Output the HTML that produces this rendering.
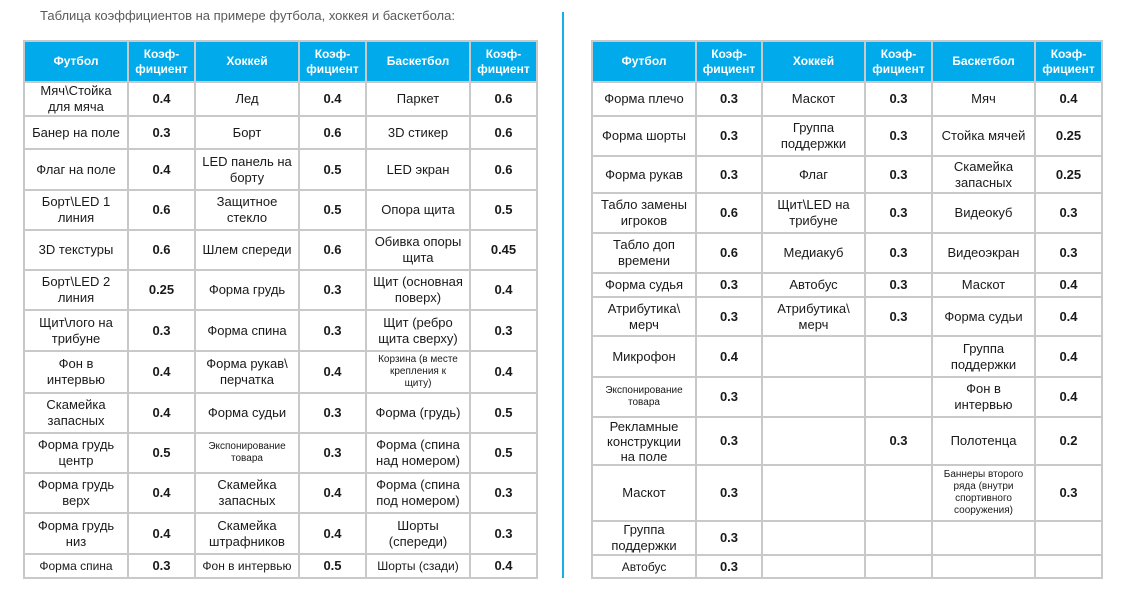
<!DOCTYPE html>
<html><head><meta charset="utf-8">
<style>
html,body{margin:0;padding:0;background:#fff;width:1123px;height:597px;overflow:hidden;position:relative;font-family:"Liberation Sans","DejaVu Sans",sans-serif;}
.title{position:absolute;left:40px;top:8px;font-size:13px;color:#5a5a5a;white-space:nowrap;}
.vline{position:absolute;left:562px;top:12px;width:2px;height:566px;background:#1aaee8;}
table{position:absolute;border-collapse:collapse;table-layout:fixed;top:40px;}
td,th{border:2px solid #c9c9c9;text-align:center;vertical-align:middle;padding:0;font-size:13px;line-height:16px;color:#1a1a1a;overflow:hidden;white-space:nowrap;}
th{background:#00aaeb;color:#fff;font-weight:bold;font-size:12px;line-height:15px;}
td.v{font-weight:bold;font-size:13px;}
td.s{font-size:10px;line-height:12px;}
td.t{line-height:15px;}
#t1{left:23px;width:513px;}
#t2{left:591px;width:510px;}
</style></head><body>
<div class="title">Таблица коэффициентов на примере футбола, хоккея и баскетбола:</div>
<div class="vline"></div>

<table id="t1">
<colgroup><col style="width:104px"><col style="width:67px"><col style="width:104px"><col style="width:67px"><col style="width:104px"><col style="width:67px"></colgroup>
<tr style="height:41px"><th>Футбол</th><th>Коэф-<br>фициент</th><th>Хоккей</th><th>Коэф-<br>фициент</th><th>Баскетбол</th><th>Коэф-<br>фициент</th></tr>
<tr style="height:34px"><td>Мяч\Стойка<br>для мяча</td><td class="v">0.4</td><td>Лед</td><td class="v">0.4</td><td>Паркет</td><td class="v">0.6</td></tr>
<tr style="height:33px"><td>Банер на поле</td><td class="v">0.3</td><td>Борт</td><td class="v">0.6</td><td>3D стикер</td><td class="v">0.6</td></tr>
<tr style="height:41px"><td>Флаг на поле</td><td class="v">0.4</td><td>LED панель на<br>борту</td><td class="v">0.5</td><td>LED экран</td><td class="v">0.6</td></tr>
<tr style="height:40px"><td>Борт\LED 1<br>линия</td><td class="v">0.6</td><td>Защитное<br>стекло</td><td class="v">0.5</td><td>Опора щита</td><td class="v">0.5</td></tr>
<tr style="height:40px"><td>3D текстуры</td><td class="v">0.6</td><td>Шлем спереди</td><td class="v">0.6</td><td>Обивка опоры<br>щита</td><td class="v">0.45</td></tr>
<tr style="height:40px"><td>Борт\LED 2<br>линия</td><td class="v">0.25</td><td>Форма грудь</td><td class="v">0.3</td><td>Щит (основная<br>поверх)</td><td class="v">0.4</td></tr>
<tr style="height:41px"><td>Щит\лого на<br>трибуне</td><td class="v">0.3</td><td>Форма спина</td><td class="v">0.3</td><td>Щит (ребро<br>щита сверху)</td><td class="v">0.3</td></tr>
<tr style="height:42px"><td>Фон в<br>интервью</td><td class="v">0.4</td><td>Форма рукав\<br>перчатка</td><td class="v">0.4</td><td class="s">Корзина (в месте<br>крепления к<br>щиту)</td><td class="v">0.4</td></tr>
<tr style="height:40px"><td>Скамейка<br>запасных</td><td class="v">0.4</td><td>Форма судьи</td><td class="v">0.3</td><td>Форма (грудь)</td><td class="v">0.5</td></tr>
<tr style="height:40px"><td>Форма грудь<br>центр</td><td class="v">0.5</td><td class="s">Экспонирование<br>товара</td><td class="v">0.3</td><td>Форма (спина<br>над номером)</td><td class="v">0.5</td></tr>
<tr style="height:40px"><td>Форма грудь<br>верх</td><td class="v">0.4</td><td>Скамейка<br>запасных</td><td class="v">0.4</td><td>Форма (спина<br>под номером)</td><td class="v">0.3</td></tr>
<tr style="height:41px"><td>Форма грудь<br>низ</td><td class="v">0.4</td><td>Скамейка<br>штрафников</td><td class="v">0.4</td><td>Шорты<br>(спереди)</td><td class="v">0.3</td></tr>
<tr style="height:24px"><td style="font-size:12px">Форма спина</td><td class="v">0.3</td><td style="font-size:12px">Фон в интервью</td><td class="v">0.5</td><td style="font-size:12px">Шорты (сзади)</td><td class="v">0.4</td></tr>
</table>

<table id="t2">
<colgroup><col style="width:104px"><col style="width:66px"><col style="width:103px"><col style="width:67px"><col style="width:103px"><col style="width:67px"></colgroup>
<tr style="height:41px"><th>Футбол</th><th>Коэф-<br>фициент</th><th>Хоккей</th><th>Коэф-<br>фициент</th><th>Баскетбол</th><th>Коэф-<br>фициент</th></tr>
<tr style="height:34px"><td>Форма плечо</td><td class="v">0.3</td><td>Маскот</td><td class="v">0.3</td><td>Мяч</td><td class="v">0.4</td></tr>
<tr style="height:40px"><td>Форма шорты</td><td class="v">0.3</td><td>Группа<br>поддержки</td><td class="v">0.3</td><td>Стойка мячей</td><td class="v">0.25</td></tr>
<tr style="height:37px"><td>Форма рукав</td><td class="v">0.3</td><td>Флаг</td><td class="v">0.3</td><td>Скамейка<br>запасных</td><td class="v">0.25</td></tr>
<tr style="height:40px"><td>Табло замены<br>игроков</td><td class="v">0.6</td><td>Щит\LED на<br>трибуне</td><td class="v">0.3</td><td>Видеокуб</td><td class="v">0.3</td></tr>
<tr style="height:40px"><td>Табло доп<br>времени</td><td class="v">0.6</td><td>Медиакуб</td><td class="v">0.3</td><td>Видеоэкран</td><td class="v">0.3</td></tr>
<tr style="height:24px"><td>Форма судья</td><td class="v">0.3</td><td>Автобус</td><td class="v">0.3</td><td>Маскот</td><td class="v">0.4</td></tr>
<tr style="height:39px"><td>Атрибутика\<br>мерч</td><td class="v">0.3</td><td>Атрибутика\<br>мерч</td><td class="v">0.3</td><td>Форма судьи</td><td class="v">0.4</td></tr>
<tr style="height:41px"><td>Микрофон</td><td class="v">0.4</td><td></td><td></td><td>Группа<br>поддержки</td><td class="v">0.4</td></tr>
<tr style="height:40px"><td class="s">Экспонирование<br>товара</td><td class="v">0.3</td><td></td><td></td><td>Фон в<br>интервью</td><td class="v">0.4</td></tr>
<tr style="height:48px"><td class="t">Рекламные<br>конструкции<br>на поле</td><td class="v">0.3</td><td></td><td class="v">0.3</td><td>Полотенца</td><td class="v">0.2</td></tr>
<tr style="height:56px"><td>Маскот</td><td class="v">0.3</td><td></td><td></td><td class="s">Баннеры второго<br>ряда (внутри<br>спортивного<br>сооружения)</td><td class="v">0.3</td></tr>
<tr style="height:33px"><td>Группа<br>поддержки</td><td class="v">0.3</td><td></td><td></td><td></td><td></td></tr>
<tr style="height:23px"><td style="font-size:12px">Автобус</td><td class="v">0.3</td><td></td><td></td><td></td><td></td></tr>
</table>
</body></html>
